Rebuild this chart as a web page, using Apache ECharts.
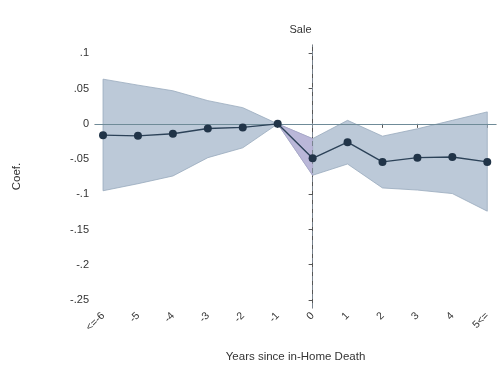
<!DOCTYPE html>
<html><head><meta charset="utf-8">
<script src="https://cdn.jsdelivr.net/npm/echarts@6/dist/echarts.min.js"></script>
<style>html,body{margin:0;padding:0;background:#fff}#c{width:502px;height:368px}</style>
</head><body><div id="c"></div>
<script>
const years = [-6, -5, -4, -3, -2, -1, 0, 1, 2, 3, 4, 5];
const yearLabels = ['<=-6', '-5', '-4', '-3', '-2', '-1', '0', '1', '2', '3', '4', '5<='];
const coef = [-0.016, -0.017, -0.014, -0.0065, -0.005, 0, -0.049, -0.026, -0.054, -0.048, -0.047, -0.054];
const ciUpper = [0.0635, 0.055, 0.047, 0.033, 0.023, 0, -0.021, 0.005, -0.0175, -0.007, 0.005, 0.017];
const ciLower = [-0.095, -0.085, -0.074, -0.048, -0.034, 0, -0.073, -0.057, -0.091, -0.094, -0.099, -0.124];
const yTicks = [0.1, 0.05, 0, -0.05, -0.1, -0.15, -0.2, -0.25];
const yTickLabels = ['.1', '.05', '0', '-.05', '-.1', '-.15', '-.2', '-.25'];

const chart = echarts.init(document.getElementById('c'), null, {renderer: 'canvas'});

function bandPolygon(api, idxs) {
  const pts = [];
  idxs.forEach(i => pts.push(api.coord([years[i], ciUpper[i]])));
  idxs.slice().reverse().forEach(i => pts.push(api.coord([years[i], ciLower[i]])));
  return pts;
}
const allIdx = years.map((_, i) => i);

chart.setOption({
  animation: false,
  backgroundColor: '#fff',
  title: {
    text: 'Sale', left: 295.5, top: 19, textAlign: 'center',
    textStyle: {fontSize: 11, fontWeight: 'normal', color: '#333', fontFamily: 'Liberation Sans, Arial'}
  },
  grid: {left: 95, right: 6, top: 45, bottom: 54},
  xAxis: {
    type: 'value', min: -6.23, max: 5.25,
    name: 'Years since in-Home Death', nameLocation: 'middle', nameGap: 43,
    nameTextStyle: {fontSize: 11.5, color: '#333', fontFamily: 'Liberation Sans, Arial'},
    axisLine: {lineStyle: {color: '#555', width: 1}},
    axisTick: {show: true, length: 4, customValues: years, lineStyle: {color: '#555'}},
    axisLabel: {
      customValues: years, rotate: 45, fontSize: 10.5, color: '#333', margin: 6,
      fontFamily: 'Liberation Sans, Arial',
      formatter: v => yearLabels[years.indexOf(Math.round(v))]
    },
    splitLine: {show: false}
  },
  yAxis: {
    type: 'value', min: -0.2615, max: 0.112,
    name: 'Coef.', nameLocation: 'middle', nameGap: 72,
    nameTextStyle: {fontSize: 11.5, color: '#333', fontFamily: 'Liberation Sans, Arial'},
    axisLine: {show: true, lineStyle: {color: '#555', width: 1}},
    axisTick: {show: true, length: 4, customValues: yTicks, lineStyle: {color: '#555'}},
    axisLabel: {
      customValues: yTicks, fontSize: 11, color: '#333', margin: 6,
      fontFamily: 'Liberation Sans, Arial',
      formatter: v => { const i = yTicks.findIndex(t => Math.abs(t - v) < 1e-6); return i >= 0 ? yTickLabels[i] : ''; }
    },
    splitLine: {show: false}
  },
  series: [
    {
      type: 'custom', z: 1,
      renderItem: (params, api) => {
        if (params.dataIndex !== 0) return null;
        return {
          type: 'group',
          children: [
            {type: 'polygon', shape: {points: bandPolygon(api, allIdx)},
             style: {fill: '#bcc9d8', stroke: '#98a9bc', lineWidth: 0.8}},
            {type: 'polygon', shape: {points: bandPolygon(api, [5, 6])},
             style: {fill: '#bab7d8', stroke: '#a29ec4', lineWidth: 0.6}}
          ]
        };
      },
      data: [[0, 0]]
    },
    {
      type: 'line', z: 5,
      data: years.map((x, i) => [x, coef[i]]),
      symbol: 'circle', symbolSize: 8,
      lineStyle: {color: '#2c4258', width: 1.4},
      itemStyle: {color: '#213448'},
      markLine: {
        silent: true, symbol: 'none', label: {show: false},
        data: [
          {yAxis: 0, lineStyle: {color: '#6f8b98', type: 'solid', width: 1}},
          {xAxis: 0, lineStyle: {color: '#7a8590', type: [5, 4], width: 1}}
        ]
      }
    }
  ]
});
</script></body></html>
